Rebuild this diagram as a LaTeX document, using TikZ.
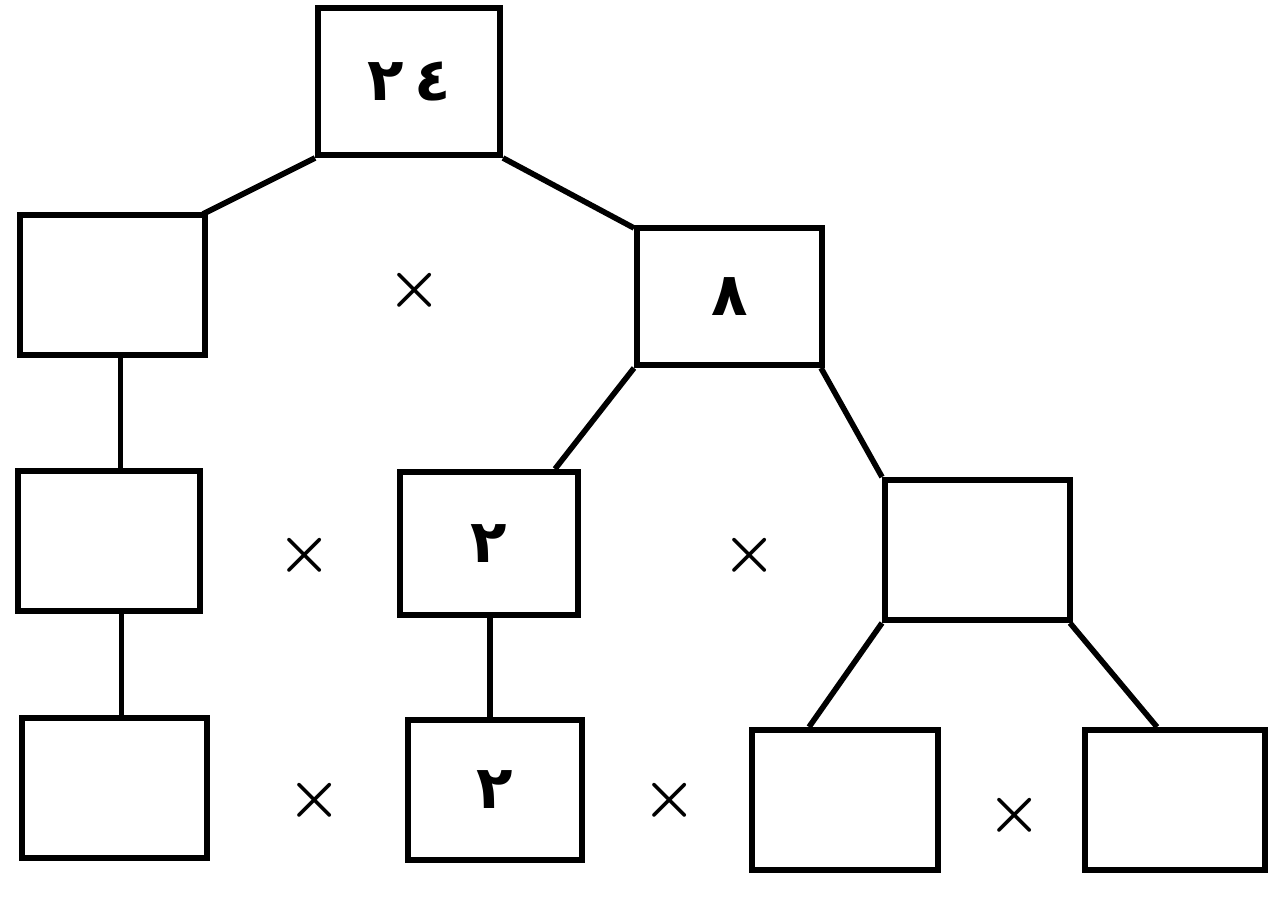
\documentclass[tikz,border=0pt]{standalone}
\usepackage{amsmath}
\usepackage{fontspec}
\newfontfamily\arabicfont[Script=Arabic]{DejaVu Sans}
\TeXXeTstate=1

\begin{document}
\begin{tikzpicture}[x=1cm,y=1cm,
    cell/.style={draw,line width=1.7pt,minimum width=1.82cm,minimum height=1.4cm,inner sep=0pt,
      font=\arabicfont\bfseries\fontsize{17}{17}\selectfont},
    times/.style={font=\fontsize{19}{19}\selectfont},
    link/.style={line width=1.6pt}]
  \useasboundingbox (0,0) rectangle (12.78,-9.01);
  % top
  \node[cell,minimum height=1.47cm] (top) at (4.09,-0.815) {\beginR\beginL ٢\kern3pt ٤\endL\endR};
  % level 2
  \node[cell,minimum width=1.85cm] (l2) at (1.125,-2.85) {};
  \node[cell,minimum width=1.85cm,minimum height=1.37cm] (r2) at (7.295,-2.965) {\beginR ٨\endR};
  % level 3
  \node[cell] (a3) at (1.09,-5.41) {};
  \node[cell,minimum width=1.78cm,minimum height=1.43cm] (b3) at (4.89,-5.435) {\beginR ٢\endR};
  \node[cell,minimum width=1.85cm] (c3) at (9.775,-5.5) {};
  % level 4
  \node[cell,minimum width=1.85cm] (a4) at (1.145,-7.88) {};
  \node[cell,minimum width=1.74cm] (b4) at (4.95,-7.9) {\beginR ٢\endR};
  \node[cell,minimum width=1.86cm] (c4) at (8.45,-8.0) {};
  \node[cell,minimum width=1.80cm] (d4) at (11.75,-8.0) {};
  % links
  \draw[link] (top.south west) -- ([xshift=-0.5mm,yshift=-0.2mm]l2.north east);
  \draw[link] (top.south east) -- ([yshift=-0.3mm]r2.north west);
  \draw[link] ([xshift=0.8mm]l2.south) -- ([xshift=0.8mm]l2.south |- a3.north);
  \draw[link] (a3.south -| a4.north) ++(0.07,0) coordinate (a3x) -- (a3x |- a4.north);
  \draw[link] (r2.south west) -- ([xshift=-2.6mm]b3.north east);
  \draw[link] ([xshift=-0.4mm]r2.south east) -- (c3.north west);
  \draw[link] (b4.north) ++(-0.05,0) coordinate (b4x) -- (b4x |- b3.south);
  \draw[link] (c3.south west) -- ([xshift=6mm]c4.north west);
  \draw[link] ([xshift=-0.3mm]c3.south east) -- ([xshift=7.5mm]d4.north west);
  % products
  \node[times] (m1) at (4.15,-2.9) {$\boldsymbol{\times}$};
  \node[times] (m2) at (3.05,-5.55) {$\boldsymbol{\times}$};
  \node[times] (m3) at (7.5,-5.55) {$\boldsymbol{\times}$};
  \node[times] (m4) at (3.15,-8.0) {$\boldsymbol{\times}$};
  \node[times] (m5) at (6.7,-8.0) {$\boldsymbol{\times}$};
  \node[times] (m6) at (10.15,-8.15) {$\boldsymbol{\times}$};
\end{tikzpicture}
\end{document}
